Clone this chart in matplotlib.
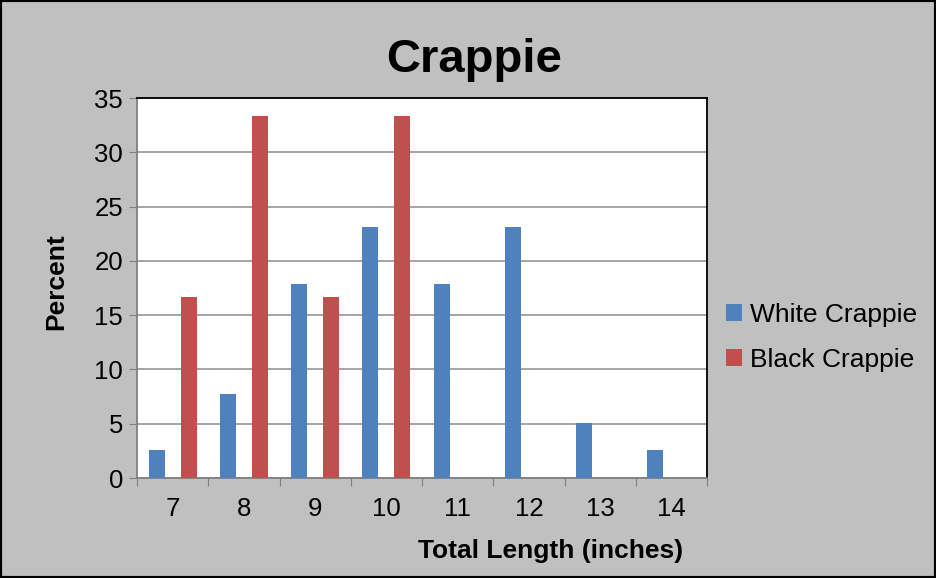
import matplotlib.pyplot as plt
import numpy as np
from matplotlib.patches import Rectangle

lengths = ['7', '8', '9', '10', '11', '12', '13', '14']
white = [2.6, 7.7, 17.9, 23.1, 17.9, 23.1, 5.1, 2.6]
black = [16.7, 33.3, 16.7, 33.3, 0, 0, 0, 0]

plt.rcParams['font.family'] = ['Liberation Sans', 'DejaVu Sans']

fig = plt.figure(figsize=(9.36, 5.78), dpi=100, facecolor='#c0c0c0')
ax = fig.add_axes([0.1464, 0.173, 0.609, 0.6574])
ax.set_facecolor('white')

x = np.arange(len(lengths))
w = 0.225
ax.bar(x - w, white, w, color='#4f81bd', label='White Crappie', zorder=3)
ax.bar(x + w, black, w, color='#c0504d', label='Black Crappie', zorder=3)

ax.set_xlim(-0.5, len(lengths) - 0.5)
ax.set_ylim(0, 35)
ax.set_yticks(np.arange(0, 36, 5))
ax.set_xticks(np.arange(-0.5, len(lengths), 1))
ax.set_xticklabels([])
ax.set_xticks(x, minor=True)
ax.set_xticklabels(lengths, minor=True)
ax.tick_params(axis='x', which='major', length=6, color='#808080', direction='out')
ax.tick_params(axis='x', which='minor', length=0, pad=14, labelsize=18.5)
ax.tick_params(axis='y', length=6, color='#808080', direction='out', labelsize=18.5, pad=4)
ax.yaxis.grid(True, color='#8c8c8c', linewidth=1.1, zorder=0)

for s in ['left', 'bottom']:
    ax.spines[s].set_color('#808080')
    ax.spines[s].set_linewidth(1.3)
for s in ['top', 'right']:
    ax.spines[s].set_color('black')
    ax.spines[s].set_linewidth(1.3)

ax.set_xlabel('Total Length (inches)', fontsize=19, fontweight='bold')
ax.xaxis.set_label_coords(0.726, -0.16)
ax.set_ylabel('Percent', fontsize=19, fontweight='bold')
ax.yaxis.set_label_coords(-0.12, 0.516)

fig.text(0.507, 0.897, 'Crappie', fontsize=34, fontweight='bold', ha='center', va='center')

fig.legend(loc='center left', bbox_to_anchor=(0.75, 0.416), frameon=False,
           fontsize=19, handlelength=0.6, handleheight=0.6, handletextpad=0.3,
           labelspacing=0.8)

fig.patches.append(Rectangle((0, 0), 1, 1, transform=fig.transFigure, fill=False,
                             edgecolor='black', linewidth=3))

plt.savefig('out.png', dpi=100, facecolor=fig.get_facecolor())
